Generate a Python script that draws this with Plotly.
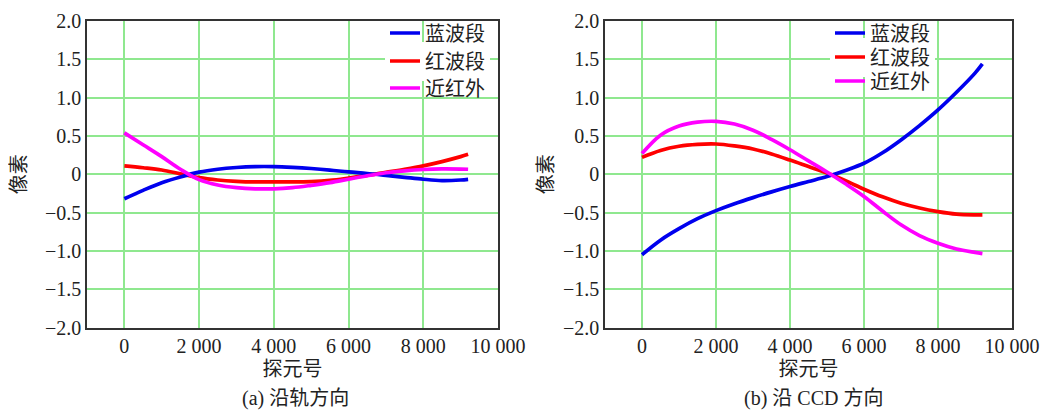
import plotly.graph_objects as go

x_vals = [0, 500, 1000, 1500, 2000, 2500, 3000, 3500, 4000, 4500, 5000,
          5500, 6000, 6500, 7000, 7500, 8000, 8500, 9000, 9200]

# (a) 沿轨方向
blue_a = [-0.32, -0.21, -0.11, -0.035, 0.027, 0.065, 0.088, 0.10, 0.10, 0.09, 0.075,
          0.055, 0.03, 0.01, -0.015, -0.04, -0.065, -0.082, -0.075, -0.067]
red_a = [0.11, 0.085, 0.055, 0.005, -0.045, -0.075, -0.092, -0.10, -0.10, -0.10, -0.095,
         -0.08, -0.05, -0.015, 0.025, 0.065, 0.11, 0.165, 0.23, 0.26]
nir_a = [0.54, 0.385, 0.23, 0.065, -0.07, -0.14, -0.175, -0.19, -0.19, -0.175, -0.145,
         -0.11, -0.065, -0.02, 0.02, 0.045, 0.062, 0.07, 0.068, 0.065]

# (b) 沿 CCD 方向
blue_b = [-1.05, -0.86, -0.71, -0.58, -0.475, -0.385, -0.305, -0.23, -0.16, -0.095, -0.03,
          0.05, 0.143, 0.28, 0.448, 0.635, 0.84, 1.07, 1.32, 1.44]
red_b = [0.22, 0.31, 0.365, 0.39, 0.395, 0.37, 0.33, 0.265, 0.185, 0.10, 0.015,
         -0.085, -0.195, -0.295, -0.378, -0.44, -0.487, -0.52, -0.53, -0.53]
nir_b = [0.27, 0.51, 0.63, 0.68, 0.69, 0.655, 0.575, 0.455, 0.32, 0.175, 0.03,
         -0.125, -0.29, -0.48, -0.66, -0.80, -0.90, -0.975, -1.02, -1.035]

series_names = ["蓝波段", "红波段", "近红外"]
series_colors = ["#0000ee", "#ff0000", "#ff00ff"]

x_tickvals = [0, 2000, 4000, 6000, 8000, 10000]
x_ticktext = ["0", "2 000", "4 000", "6 000", "8 000", "10 000"]
y_tickvals = [2.0, 1.5, 1.0, 0.5, 0, -0.5, -1.0, -1.5, -2.0]
y_ticktext = ["2.0", "1.5", "1.0", "0.5", "0", "−0.5", "−1.0", "−1.5", "−2.0"]

FONT = "Liberation Serif, Times New Roman, Noto Sans CJK SC"
OFF = 8  # default page body margin
W, H = 1051 - OFF, 410 - OFF

def px_x(p):
    return (p - OFF) / W

def px_y(p):
    return 1 - (p - OFF) / H

fig = go.Figure()

# one legend per row; the middle row's white box (drawn first) hides the 1.5 gridline
panels = [
    ("x", "y", [blue_a, red_a, nir_a], 385, [33, 61, 88], ["legend2", "legend", "legend3"]),
    ("x2", "y2", [blue_b, red_b, nir_b], 830, [33, 57, 81], ["legend5", "legend4", "legend6"]),
]
draw_order = [1, 0, 2]
legend_layout = {}
for xa, ya, data, lx, rows, lnames in panels:
    for i in draw_order:
        lname = lnames[i]
        fig.add_trace(go.Scatter(
            x=x_vals, y=data[i], mode="lines", name=series_names[i],
            line=dict(color=series_colors[i], width=3.7, shape="spline", smoothing=1.0),
            xaxis=xa, yaxis=ya, legend=lname,
        ))
        legend_layout[lname] = dict(
            x=px_x(lx), y=px_y(rows[i]), xanchor="left", yanchor="middle",
            bgcolor="white" if i == 1 else "rgba(0,0,0,0)", borderwidth=0,
            font=dict(family=FONT, size=20, color="#222222"),
        )

axis_common = dict(
    showgrid=True, gridcolor="#8fe88f", gridwidth=1.5,
    showline=True, linecolor="#333333", linewidth=1.5, mirror=True,
    ticks="", zeroline=False, automargin=False,
    tickfont=dict(family=FONT, size=20, color="#222222"),
)

ydom = [px_y(327.5), px_y(21)]
fig.update_layout(
    width=W, height=H,
    margin=dict(l=0, r=0, t=0, b=0, autoexpand=False),
    paper_bgcolor="white", plot_bgcolor="white",
    font=dict(family=FONT, size=20, color="#222222"),
    xaxis=dict(domain=[px_x(87), px_x(498)], range=[-1000, 10000],
               tickvals=x_tickvals, ticktext=x_ticktext,
               title=dict(text="探元号", standoff=6,
                          font=dict(family=FONT, size=20)), anchor="y", **axis_common),
    yaxis=dict(domain=ydom, range=[-2, 2], tickvals=y_tickvals, ticktext=y_ticktext,
               title=dict(text="像素", standoff=14,
                          font=dict(family=FONT, size=20)), anchor="x", **axis_common),
    xaxis2=dict(domain=[px_x(605), px_x(1012)], range=[-1000, 10000],
                tickvals=x_tickvals, ticktext=x_ticktext,
                title=dict(text="探元号", standoff=6,
                           font=dict(family=FONT, size=20)), anchor="y2", **axis_common),
    yaxis2=dict(domain=ydom, range=[-2, 2], tickvals=y_tickvals, ticktext=y_ticktext,
                title=dict(text="像素", standoff=4,
                           font=dict(family=FONT, size=20)), anchor="x2", **axis_common),
    showlegend=True,
    **legend_layout,
)

fig.add_annotation(text="(a) 沿轨方向", x=px_x(295), y=px_y(398), xref="paper", yref="paper",
                   xanchor="center", yanchor="middle",
                   showarrow=False, font=dict(family=FONT, size=20, color="#222222"))
fig.add_annotation(text="(b) 沿 CCD 方向", x=px_x(813), y=px_y(398), xref="paper", yref="paper",
                   xanchor="center", yanchor="middle",
                   showarrow=False, font=dict(family=FONT, size=20, color="#222222"))

fig.write_html("out.html")
